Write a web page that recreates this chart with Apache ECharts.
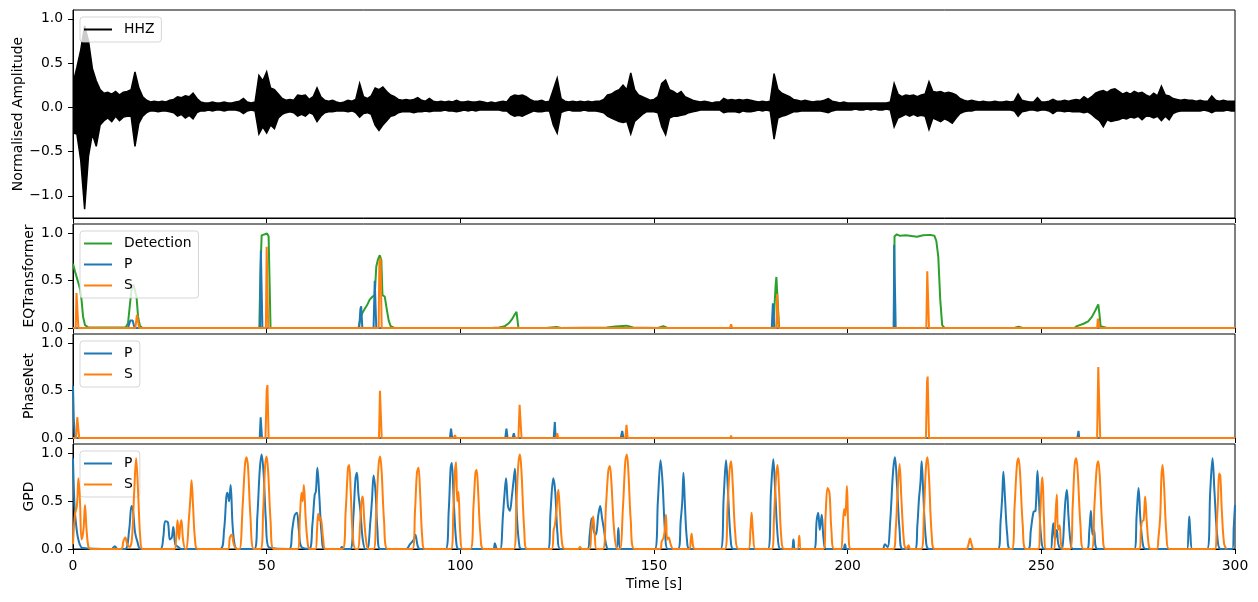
<!DOCTYPE html>
<html>
<head>
<meta charset="utf-8">
<script src="https://cdn.jsdelivr.net/npm/echarts@6/dist/echarts.min.js"></script>
<style>
html,body{margin:0;padding:0;background:#fff;}
#chart{width:1258px;height:602px;}
</style>
</head>
<body>
<div id="chart"></div>
<script>
// ---- Data ----
// HHZ waveform envelope, one value per second (t = 0..300 s)
const hhzMax = [
0.27,0.45,0.65,0.92,0.75,0.44,0.30,0.20,0.16,0.17,
0.15,0.18,0.14,0.17,0.18,0.20,0.40,0.22,0.12,0.08,
0.06,0.07,0.06,0.07,0.06,0.08,0.09,0.12,0.11,0.13,
0.12,0.16,0.10,0.06,0.05,0.05,0.06,0.05,0.05,0.06,
0.05,0.05,0.06,0.07,0.10,0.06,0.05,0.06,0.36,0.30,
0.40,0.22,0.20,0.15,0.10,0.08,0.09,0.08,0.14,0.13,
0.14,0.09,0.12,0.22,0.12,0.08,0.07,0.08,0.06,0.05,
0.06,0.08,0.07,0.09,0.27,0.12,0.10,0.13,0.22,0.20,
0.23,0.18,0.14,0.12,0.09,0.08,0.09,0.08,0.09,0.11,
0.08,0.07,0.10,0.07,0.06,0.07,0.06,0.07,0.06,0.08,
0.06,0.06,0.07,0.06,0.06,0.07,0.06,0.05,0.06,0.05,
0.06,0.07,0.06,0.12,0.14,0.13,0.14,0.12,0.09,0.07,
0.07,0.08,0.06,0.07,0.20,0.33,0.10,0.07,0.06,0.07,
0.06,0.07,0.06,0.07,0.06,0.07,0.07,0.09,0.14,0.15,
0.18,0.20,0.25,0.20,0.39,0.20,0.14,0.12,0.10,0.08,
0.09,0.12,0.27,0.31,0.20,0.18,0.15,0.18,0.12,0.10,
0.08,0.07,0.06,0.07,0.06,0.05,0.06,0.06,0.10,0.08,
0.09,0.08,0.09,0.08,0.09,0.08,0.07,0.06,0.07,0.06,
0.07,0.38,0.20,0.16,0.14,0.12,0.09,0.08,0.07,0.08,
0.07,0.06,0.07,0.07,0.08,0.10,0.07,0.06,0.05,0.06,
0.05,0.05,0.05,0.05,0.05,0.05,0.05,0.05,0.05,0.05,
0.05,0.06,0.27,0.15,0.12,0.14,0.13,0.14,0.12,0.14,
0.15,0.29,0.18,0.17,0.18,0.16,0.17,0.16,0.14,0.10,
0.08,0.07,0.08,0.07,0.06,0.07,0.06,0.06,0.07,0.06,
0.06,0.07,0.06,0.07,0.15,0.08,0.07,0.06,0.06,0.11,
0.06,0.06,0.07,0.09,0.07,0.07,0.08,0.07,0.08,0.09,
0.08,0.12,0.09,0.12,0.16,0.18,0.19,0.17,0.20,0.21,
0.18,0.15,0.17,0.15,0.18,0.16,0.17,0.14,0.12,0.16,
0.13,0.24,0.14,0.13,0.10,0.09,0.08,0.09,0.08,0.08,
0.07,0.08,0.07,0.07,0.13,0.08,0.07,0.08,0.07,0.07,0.07
];
const hhzMin = [
-0.29,-0.30,-0.60,-1.15,-0.55,-0.30,-0.44,-0.20,-0.15,-0.12,
-0.16,-0.10,-0.15,-0.11,-0.10,-0.10,-0.44,-0.18,-0.10,-0.06,
-0.04,-0.04,-0.05,-0.04,-0.04,-0.05,-0.06,-0.10,-0.08,-0.12,
-0.09,-0.13,-0.06,-0.04,-0.04,-0.03,-0.04,-0.03,-0.03,-0.04,
-0.03,-0.03,-0.03,-0.04,-0.07,-0.04,-0.03,-0.04,-0.30,-0.22,
-0.29,-0.20,-0.24,-0.12,-0.08,-0.06,-0.05,-0.06,-0.10,-0.08,
-0.10,-0.06,-0.08,-0.16,-0.10,-0.06,-0.05,-0.05,-0.04,-0.04,
-0.04,-0.05,-0.04,-0.06,-0.11,-0.07,-0.06,-0.08,-0.20,-0.26,
-0.20,-0.15,-0.10,-0.09,-0.06,-0.05,-0.05,-0.05,-0.06,-0.05,
-0.05,-0.04,-0.05,-0.04,-0.04,-0.04,-0.03,-0.04,-0.04,-0.05,
-0.04,-0.03,-0.04,-0.03,-0.04,-0.03,-0.03,-0.03,-0.03,-0.03,
-0.03,-0.04,-0.04,-0.08,-0.10,-0.09,-0.10,-0.08,-0.06,-0.04,
-0.05,-0.05,-0.04,-0.04,-0.20,-0.29,-0.06,-0.04,-0.03,-0.04,
-0.04,-0.04,-0.03,-0.04,-0.04,-0.04,-0.05,-0.06,-0.10,-0.12,
-0.14,-0.16,-0.17,-0.16,-0.30,-0.16,-0.12,-0.08,-0.05,-0.05,
-0.05,-0.06,-0.22,-0.31,-0.12,-0.10,-0.10,-0.09,-0.08,-0.06,
-0.05,-0.04,-0.03,-0.03,-0.03,-0.03,-0.03,-0.03,-0.06,-0.05,
-0.05,-0.05,-0.06,-0.04,-0.05,-0.05,-0.04,-0.03,-0.04,-0.03,
-0.04,-0.36,-0.12,-0.10,-0.09,-0.07,-0.05,-0.05,-0.04,-0.04,
-0.04,-0.04,-0.04,-0.04,-0.05,-0.06,-0.04,-0.03,-0.03,-0.03,
-0.03,-0.03,-0.02,-0.03,-0.03,-0.02,-0.03,-0.02,-0.03,-0.03,
-0.02,-0.03,-0.22,-0.12,-0.10,-0.08,-0.10,-0.08,-0.10,-0.09,
-0.10,-0.25,-0.12,-0.14,-0.16,-0.13,-0.15,-0.18,-0.12,-0.07,
-0.05,-0.04,-0.04,-0.03,-0.03,-0.03,-0.03,-0.03,-0.03,-0.03,
-0.03,-0.03,-0.03,-0.04,-0.10,-0.05,-0.04,-0.03,-0.03,-0.04,
-0.03,-0.03,-0.04,-0.07,-0.04,-0.04,-0.05,-0.04,-0.05,-0.05,
-0.05,-0.06,-0.05,-0.08,-0.12,-0.15,-0.22,-0.14,-0.16,-0.15,
-0.14,-0.12,-0.13,-0.11,-0.12,-0.10,-0.14,-0.10,-0.10,-0.12,
-0.10,-0.15,-0.10,-0.14,-0.07,-0.05,-0.04,-0.04,-0.04,-0.04,
-0.04,-0.04,-0.03,-0.04,-0.06,-0.04,-0.04,-0.04,-0.03,-0.04,-0.04
];

// EQTransformer probabilities [time s, value]
const eqtDetection = [
[0,0.68],[0.5,0.6],[1,0.53],[1.5,0.46],[1.9,0.4],[2.2,0.3],[2.6,0.12],[3.1,0.03],[4,0.005],
[13.6,0.005],[14.2,0.05],[14.7,0.25],[15.1,0.4],[15.6,0.46],[16,0.44],[16.4,0.33],[16.8,0.12],[17.3,0.02],[18,0],
[48.1,0],[48.4,0.6],[48.7,0.98],[49.2,1.0],[50.1,1.0],[50.5,0.97],[50.8,0.4],[51.0,0],
[73.7,0],[74.1,0.08],[74.6,0.15],[75.3,0.2],[75.9,0.24],[76.6,0.3],[77.3,0.33],[77.9,0.35],[78.3,0.65],[78.7,0.72],[79.2,0.77],[79.6,0.72],[79.9,0.35],[80.5,0.33],[81.0,0.2],[81.5,0.08],[82.0,0.02],[83,0],
[108,0],[110,0.005],[111.5,0.02],[112.5,0.05],[113.3,0.09],[114.0,0.14],[114.5,0.17],[114.8,0.16],[115.0,0],
[122,0],[124.9,0.01],[126,0],[137.8,0.005],[140,0.015],[142.9,0.025],[144.6,0.005],[151,0],[152.4,0.02],[153.5,0],
[180.6,0],[181.0,0.15],[181.4,0.45],[181.6,0.54],[181.9,0.3],[182.3,0],
[211.9,0],[212.1,0.97],[212.7,0.99],[213.5,0.975],[215,0.98],[217.9,0.965],[219.5,0.98],[221.3,0.985],[222.4,0.975],[222.9,0.92],[223.4,0.75],[223.9,0.3],[224.4,0.03],[225,0],
[243,0],[244.1,0.015],[245.2,0],
[258.5,0],[259.2,0.02],[260.9,0.045],[262.1,0.07],[263.1,0.12],[264.0,0.19],[264.7,0.25],[265.0,0.15],[265.3,0.02],[267,0],[300,0]
];
const eqtP = [
[0,0],[14.2,0],[14.8,0.08],[15.1,0.1],[15.4,0.08],[15.9,0],
[48.3,0],[48.5,0.82],[48.7,0.82],[48.9,0],
[73.9,0],[74.2,0.2],[74.4,0.23],[74.7,0],
[77.6,0],[77.9,0.5],[78.1,0.52],[78.3,0],
[180.4,0],[180.7,0.26],[180.9,0.26],[181.1,0],
[211.9,0],[212.0,0.88],[212.3,0.88],[212.4,0],[300,0]
];
const eqtS = [
[0,0],[0.7,0],[0.9,0.37],[1.2,0.38],[1.4,0],
[16.1,0],[16.5,0.14],[16.8,0.15],[17.1,0],
[49.8,0],[50.0,0.86],[50.2,0.86],[50.4,0],
[78.9,0],[79.1,0.7],[79.4,0.74],[79.7,0],
[169.6,0],[169.9,0.04],[170.2,0],
[181.6,0],[181.8,0.36],[182.0,0.38],[182.2,0],
[220.3,0],[220.55,0.6],[220.75,0.6],[221.0,0],
[264.4,0],[264.6,0.1],[264.8,0.12],[265,0],[300,0]
];

// PhaseNet probabilities
const pnP = [
[0,0.55],[0.2,0.2],[0.5,0],
[48.2,0],[48.45,0.22],[48.6,0.22],[48.8,0],
[97.3,0],[97.6,0.1],[97.9,0],
[111.6,0],[111.9,0.1],[112.2,0],[113.5,0],[113.8,0.05],[114.1,0],
[124.1,0],[124.4,0.17],[124.6,0],
[141.4,0],[141.8,0.075],[142.1,0],
[218.4,0],[218.7,0.02],[219,0],
[259.3,0],[259.6,0.075],[259.8,0],
[274.8,0],[275.1,0.01],[275.4,0],
[293.7,0],[294,0.015],[294.3,0],[300,0]
];
const pnS = [
[0,0],[0.8,0],[1.1,0.22],[1.3,0.24],[1.6,0],
[49.7,0],[50.0,0.5],[50.2,0.56],[50.5,0],
[79.0,0],[79.25,0.5],[79.4,0.52],[79.7,0],
[98.3,0],[98.6,0.03],[98.9,0],
[115.0,0],[115.3,0.35],[115.45,0.37],[115.8,0],
[124.8,0],[125.0,0.05],[125.3,0],
[142.6,0],[142.9,0.14],[143.2,0],
[169.7,0],[169.9,0.025],[170.1,0],
[220.2,0],[220.5,0.6],[220.65,0.65],[221.0,0],
[264.4,0],[264.7,0.75],[264.85,0.77],[265.2,0],[300,0]
];

// GPD probabilities
const gpdP = [
[0,0.95],[0.4,0.45],[0.9,0.22],[1.5,0.08],[2.5,0.01],
[10,0],[10.8,0.03],[11.5,0],
[13.5,0],[14.5,0.2],[15.1,0.45],[15.5,0.4],[16,0.18],[16.6,0.08],[17.5,0],
[22.5,0],[23.3,0.12],[23.8,0.29],[24.5,0.28],[25,0.1],[25.5,0.12],[25.9,0.23],[26.4,0.05],[27.2,0.02],[28,0],
[38,0],[39,0.2],[39.6,0.55],[39.9,0.59],[40.3,0.5],[40.7,0.67],[41.2,0.25],[41.8,0.03],[42.5,0],
[46.8,0],[47.6,0.35],[48.2,0.82],[48.7,0.99],[49.2,0.8],[49.8,0.3],[50.5,0.02],
[55.8,0],[56.6,0.2],[57.2,0.35],[57.8,0.38],[58.3,0.2],[59,0.02],
[61,0],[61.8,0.25],[62.4,0.57],[62.7,0.6],[63.1,0.85],[63.6,0.55],[64.2,0.15],[65,0],
[69,0],[69.4,0.02],[70,0],
[71.6,0],[72.4,0.35],[72.9,0.72],[73.3,0.8],[73.7,0.57],[74.2,0.4],[74.8,0.1],[75.5,0],
[76,0],[76.8,0.3],[77.2,0.52],[77.6,0.77],[78.1,0.6],[78.6,0.2],[79.3,0],
[86,0],[87,0.05],[88,0.1],[88.4,0.15],[89,0.03],[89.6,0],
[96.2,0],[97,0.4],[97.5,0.85],[97.8,0.9],[98.3,0.5],[99,0.05],[99.6,0],
[108.5,0],[108.9,0.06],[109.5,0],
[110.3,0],[111,0.35],[111.4,0.57],[111.8,0.74],[112.3,0.45],[112.8,0.4],[113.3,0.55],[113.7,0.7],[114.1,0.84],[114.6,0.35],[115.3,0.02],[116,0],
[122.6,0],[123.3,0.4],[124,0.74],[124.5,0.6],[125.1,0.15],[125.8,0],
[132.8,0],[133.4,0.15],[133.9,0.32],[134.4,0.2],[135,0.15],[135.6,0.35],[136.1,0.45],[136.6,0.32],[137.1,0.2],[137.6,0.05],[138.2,0],
[140.2,0],[140.8,0.22],[141.3,0],
[150.2,0],[151,0.5],[151.7,0.93],[152.2,0.7],[152.9,0.15],[153.6,0],
[156.2,0],[156.9,0.3],[157.3,0.5],[157.6,0.8],[158,0.45],[158.5,0.1],[159.2,0],
[167.2,0],[168,0.55],[168.6,0.93],[169.1,0.6],[169.8,0.1],[170.5,0],
[179.4,0],[180.2,0.6],[180.8,0.94],[181.3,0.6],[182,0.1],[182.7,0],
[185.5,0],[186,0.1],[186.5,0],
[191.3,0],[192,0.3],[192.4,0.38],[192.8,0.2],[193.3,0.36],[193.8,0.1],[194.5,0],
[198.8,0],[199.3,0.05],[199.8,0],
[209,0],[209.6,0.05],[210.3,0.02],[211,0.3],[211.7,0.8],[212.2,0.96],[212.7,0.7],[213.4,0.2],[214.2,0],
[217.4,0],[218,0.25],[218.4,0.52],[218.8,0.7],[219.1,0.92],[219.5,0.6],[220.2,0.1],[221,0],
[238.8,0],[239.5,0.3],[239.9,0.55],[240.2,0.81],[240.6,0.55],[241.2,0.15],[242,0],
[246.6,0],[247.3,0.2],[248,0.39],[248.5,0.4],[249,0.82],[249.4,0.5],[250,0.1],[250.7,0],
[252.4,0],[252.8,0.15],[253.1,0.27],[253.5,0.1],[254,0.2],[254.4,0.05],[255.2,0],
[255.4,0],[255.9,0.3],[256.2,0.5],[256.6,0.62],[257,0.35],[257.6,0.05],[258.2,0],
[261.8,0],[262.4,0.2],[262.8,0.4],[263.2,0.15],[263.6,0.2],[264,0.03],[264.6,0],
[274,0],[274.6,0.35],[275.1,0.64],[275.6,0.3],[276.3,0.03],[277,0],
[287.6,0],[288,0.2],[288.2,0.34],[288.5,0.15],[289,0],
[292.8,0],[293.6,0.6],[294.2,0.95],[294.7,0.6],[295.5,0.1],[296.3,0],
[299.3,0],[299.7,0.25],[300,0.46]
];
const gpdS = [
[0,0.05],[0.5,0.36],[1,0.45],[1.4,0.74],[1.8,0.5],[2.2,0.1],[2.7,0.2],[3.1,0.46],[3.5,0.2],[4,0.02],[4.6,0],
[12.4,0],[13,0.08],[13.5,0.12],[14,0.05],[14.6,0.02],
[15.2,0.1],[15.8,0.6],[16.3,0.95],[16.8,0.6],[17.4,0.1],[18,0],
[26.2,0],[26.6,0.1],[27,0.3],[27.4,0.1],[27.7,0.25],[28,0.3],[28.4,0.1],[29,0],
[29.3,0],[29.9,0.3],[30.3,0.53],[30.6,0.72],[31,0.45],[31.5,0.1],[32.2,0],
[40,0],[40.5,0.12],[41,0.15],[41.5,0.05],[42.3,0],
[43,0],[43.8,0.45],[44.4,0.88],[44.8,0.96],[45.2,0.85],[45.8,0.35],[46.7,0],
[48.4,0],[49.1,0.4],[49.6,0.87],[50,0.97],[50.4,0.8],[51,0.3],[51.8,0],
[58,0],[58.6,0.35],[59,0.59],[59.3,0.5],[59.6,0.67],[60.1,0.3],[60.7,0.03],[61.2,0],
[62.6,0],[63,0.2],[63.3,0.37],[63.6,0.3],[63.9,0.33],[64.2,0.27],[64.6,0.1],[65.2,0],
[69.6,0],[70.4,0.4],[71,0.85],[71.3,0.88],[71.7,0.6],[72.3,0.1],[73,0],
[73.6,0],[74.1,0.25],[74.5,0.5],[74.8,0.55],[75.2,0.3],[75.8,0.05],[76.4,0],
[77.6,0],[78.3,0.4],[78.9,0.88],[79.3,0.97],[79.7,0.8],[80.3,0.3],[81.2,0],
[87.6,0],[88.3,0.4],[88.8,0.8],[89.2,0.85],[89.6,0.6],[90.2,0.1],[90.8,0],
[97.6,0],[98.2,0.4],[98.6,0.8],[98.9,0.91],[99.2,0.5],[99.5,0.6],[100,0.15],[100.6,0],
[102.6,0],[103.4,0.45],[103.9,0.8],[104.2,0.83],[104.6,0.6],[105.2,0.15],[106,0],
[113.8,0],[114.5,0.5],[115,0.9],[115.4,0.99],[115.8,0.8],[116.5,0.2],[117.2,0],
[123.6,0],[124.1,0.2],[124.4,0.25],[124.8,0.4],[125.3,0.62],[125.7,0.4],[126.3,0.05],[127,0],
[130.4,0],[130.9,0.02],[131.4,0],
[133.4,0],[133.8,0.2],[134.1,0.3],[134.3,0.34],[134.7,0.15],[135.2,0],
[136.8,0],[137.6,0.45],[138.2,0.82],[138.6,0.87],[139,0.7],[139.7,0.2],[140.5,0],
[141.2,0],[142,0.45],[142.6,0.92],[143,0.99],[143.4,0.8],[144,0.3],[144.9,0],
[151.6,0],[152,0.08],[152.5,0.12],[152.9,0.25],[153.1,0.36],[153.4,0.1],[153.8,0.12],[154.3,0.05],[155,0],
[159.1,0],[159.5,0.1],[159.7,0.16],[160.1,0.03],[160.6,0],
[168.3,0],[169,0.45],[169.5,0.82],[169.9,0.92],[170.3,0.7],[171,0.15],[171.8,0],
[174.4,0],[174.9,0.2],[175.2,0.38],[175.6,0.15],[176.2,0],
[180.4,0],[181,0.35],[181.5,0.75],[181.9,0.88],[182.3,0.6],[182.9,0.1],[183.6,0],
[187,0],[187.5,0.14],[188,0],
[193.8,0],[194.3,0.35],[194.8,0.64],[195.3,0.59],[195.8,0.2],[196.5,0],
[198.2,0],[198.7,0.2],[199.1,0.42],[199.4,0.35],[199.8,0.66],[200.2,0.2],[200.8,0],
[211.8,0],[212.4,0.2],[212.9,0.6],[213.4,0.89],[213.9,0.5],[214.6,0.05],[215.2,0],[215.7,0.04],[216.2,0],
[219,0],[219.7,0.4],[220.2,0.85],[220.6,0.96],[221,0.75],[221.7,0.15],[222.5,0],
[230.6,0],[231.2,0.05],[231.6,0.11],[232,0.05],[232.6,0],
[242.4,0],[243.1,0.45],[243.7,0.88],[244.1,0.95],[244.5,0.8],[245.2,0.25],[246,0],
[249.2,0],[249.7,0.35],[250.1,0.7],[250.3,0.75],[250.7,0.3],[251.2,0],
[253.2,0],[253.6,0.3],[254,0.57],[254.3,0.2],[254.7,0.25],[255.1,0.05],[255.6,0],
[257.4,0],[258.1,0.45],[258.6,0.88],[259,0.95],[259.4,0.8],[260.1,0.25],[260.9,0],
[263,0],[263.7,0.45],[264.3,0.85],[264.7,0.92],[265.1,0.75],[265.8,0.2],[266.6,0],
[275.4,0],[275.7,0.2],[276,0.29],[276.4,0.3],[276.8,0.55],[277.2,0.3],[277.8,0.02],[278.4,0],
[279.8,0],[280.2,0.1],[280.7,0.35],[281,0.75],[281.3,0.88],[281.7,0.65],[282.3,0.15],[283,0],
[294.8,0],[295.3,0.27],[295.6,0.5],[295.9,0.79],[296.2,0.77],[296.6,0.4],[297.2,0.05],[297.8,0]
];

const xTicks = [0, 50, 100, 150, 200, 250, 300];
const ampTicks = [-1.0, -0.5, 0.0, 0.5, 1.0];
const probTicks = [0.0, 0.5, 1.0];
const panelNames = ['Normalised Amplitude', 'EQTransformer', 'PhaseNet', 'GPD'];
const xLabel = 'Time [s]';

// ---- Chart ----
const C_BLUE = '#1f77b4', C_ORANGE = '#ff7f0e', C_GREEN = '#2ca02c';
const FONT = 'DejaVu Sans';
const FS = 13.9;
const LW = 2;

const grids = [
  {left: 73, right: 23, top: 10, height: 208},
  {left: 73, right: 23, top: 224, height: 104},
  {left: 73, right: 23, top: 334, height: 104},
  {left: 73, right: 23, top: 444, height: 105}
].map(g => Object.assign(g, {show: true, borderColor: '#000', borderWidth: 1, containLabel: false}));

const fmtNum = v => (v < 0 ? '\u2212' : '') + Math.abs(v).toFixed(1);

const xAxes = grids.map((g, i) => ({
  type: 'value', gridIndex: i, min: 0, max: 300, interval: 50,
  axisLine: {show: true, onZero: false, lineStyle: {color: '#000', width: 1}},
  axisTick: {show: true, length: 5, lineStyle: {color: '#000', width: 1}},
  axisLabel: {show: i === 3, color: '#000', fontFamily: FONT, fontSize: FS, margin: 10},
  splitLine: {show: false}
}));

const yAxes = grids.map((g, i) => ({
  type: 'value', gridIndex: i,
  min: i === 0 ? -1.25 : 0, max: 1.1,
  axisLine: {show: true, onZero: false, lineStyle: {color: '#000', width: 1}},
  axisTick: {show: true, length: 5, customValues: i === 0 ? ampTicks : probTicks, lineStyle: {color: '#000', width: 1}},
  axisLabel: {show: true, customValues: i === 0 ? ampTicks : probTicks, formatter: fmtNum,
              color: '#000', fontFamily: FONT, fontSize: FS, margin: 10},
  splitLine: {show: false}
}));

// axis titles as text, centred beside each panel
const titleX = [18.8, 29.6, 29.6, 29.6];
const graphics = grids.map((g, i) => ({
  type: 'text', x: titleX[i], y: g.top + g.height / 2, rotation: Math.PI / 2,
  style: {text: panelNames[i], fill: '#000', font: FS + 'px "' + FONT + '"',
          textAlign: 'center', textVerticalAlign: 'middle', align: 'center', verticalAlign: 'middle'},
  silent: true
}));
graphics.push({
  type: 'text', x: 654, y: 584.5,
  style: {text: xLabel, fill: '#000', font: FS + 'px "' + FONT + '"',
          textAlign: 'center', textVerticalAlign: 'middle', align: 'center', verticalAlign: 'middle'},
  silent: true
});

function lineSeries(name, data, color, idx, z) {
  return {
    type: 'line', name, data, xAxisIndex: idx, yAxisIndex: idx,
    showSymbol: false, symbol: 'none', smooth: false,
    lineStyle: {color, width: LW}, itemStyle: {color}, z: z || 2,
    animation: false, silent: true
  };
}

// HHZ: one filled polygon between the lower and upper envelope, mapped through the axes
const hhzBand = {
  type: 'custom', name: 'HHZ', xAxisIndex: 0, yAxisIndex: 0,
  data: [[0, 0]], itemStyle: {color: '#000'}, clip: true, silent: true, animation: false,
  renderItem: function (params, api) {
    const pts = [];
    for (let i = 0; i < hhzMax.length; i++) pts.push(api.coord([i, hhzMax[i]]));
    for (let i = hhzMin.length - 1; i >= 0; i--) pts.push(api.coord([i, hhzMin[i]]));
    return {
      type: 'polygon', shape: {points: pts},
      style: {fill: '#000', stroke: '#000', lineWidth: 1.5, lineJoin: 'miter', miterLimit: 4}
    };
  }
};

const series = [
  hhzBand,
  lineSeries('Detection', eqtDetection, C_GREEN, 1, 2),
  lineSeries('P', eqtP, C_BLUE, 1, 3),
  lineSeries('S', eqtS, C_ORANGE, 1, 4),
  lineSeries('P', pnP, C_BLUE, 2, 3),
  lineSeries('S', pnS, C_ORANGE, 2, 4),
  Object.assign(lineSeries('P', gpdP, C_BLUE, 3, 3), {smooth: 0.35}),
  Object.assign(lineSeries('S', gpdS, C_ORANGE, 3, 4), {smooth: 0.35})
];

function legend(top, names) {
  return {
    show: true, orient: 'vertical', left: 80, top, data: names,
    icon: 'rect', itemWidth: 28, itemHeight: 2, itemGap: 5,
    padding: [4.5, 7, 4.5, 4],
    backgroundColor: 'rgba(255,255,255,0.8)',
    borderColor: 'rgba(204,204,204,0.8)', borderWidth: 1, borderRadius: 3,
    textStyle: {color: '#000', fontFamily: FONT, fontSize: FS, lineHeight: 16, padding: [0, 0, 0, 7]},
    selectedMode: false
  };
}

const chart = echarts.init(document.getElementById('chart'), null, {renderer: 'canvas'});
chart.setOption({
  animation: false,
  backgroundColor: '#fff',
  textStyle: {fontFamily: FONT},
  grid: grids,
  xAxis: xAxes,
  yAxis: yAxes,
  legend: [
    legend(17, ['HHZ']),
    legend(231, ['Detection', 'P', 'S']),
    legend(341, ['P', 'S']),
    legend(451, ['P', 'S'])
  ],
  graphic: graphics,
  series
});
</script>
</body>
</html>
